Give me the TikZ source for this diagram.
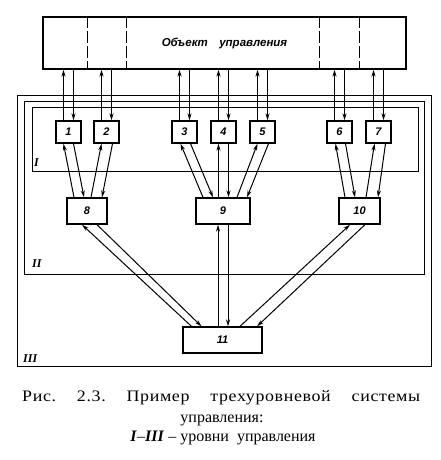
\documentclass[tikz,border=0pt]{standalone}
\usepackage{fontspec}
\setmainfont{Liberation Serif}
\newfontfamily\schemefont{Liberation Sans}
\newfontfamily\widefont{Liberation Serif}[FakeStretch=1.12, LetterSpace=4]
\usetikzlibrary{arrows.meta, calc}

\begin{document}
\begin{tikzpicture}[x=1pt, y=-1pt,
  every node/.style={inner sep=0pt},
  box/.style={draw, line width=1.3pt, font=\schemefont\bfseries\itshape\fontsize{11}{11}\selectfont},
  arrow/.style={-{Stealth[length=7pt, width=4pt]}, line width=1pt},
  frame/.style={line width=0.8pt},
  level/.style={font=\bfseries\itshape\fontsize{12}{12}\selectfont, anchor=base west},
  caption/.style={font=\fontsize{16}{19}\selectfont, anchor=base}
]
  \useasboundingbox (0,0) rectangle (441,460);

  % object under control
  \node[box, minimum width=363pt, minimum height=52pt] (obj) at (224.5,43)
    {\fontsize{11.5}{12}\selectfont Объект\quad управления};
  \foreach \dx in {45,84,277,317}
    \draw[line width=1pt, dash pattern=on 12pt off 3pt]
      ($(obj.north west)+(\dx,0)$) -- ($(obj.south west)+(\dx,0)$);

  % levels I--III
  \draw[frame] (17,95) rectangle (431,366);
  \draw[frame] (24,101) rectangle (424,274);
  \draw[frame] (32,107) rectangle (418,171);
  \node[level] (lI) at (34,166) {I};
  \node[level] (lII) at (32,267) {II};
  \node[level] (lIII) at (23,362) {III};

  % level I units
  \foreach \n/\x in {1/68.5, 2/106.5, 3/184.5, 4/223.5, 5/262.5, 6/339.5, 7/378.5}
    \node[box, minimum width=25pt, minimum height=22pt] (b\n) at (\x,132) {\n};

  % level II units
  \node[box, minimum width=40pt, minimum height=26pt] (b8) at (87,211) {8};
  \node[box, minimum width=54pt, minimum height=26pt] (b9) at (223,211) {9};
  \node[box, minimum width=41pt, minimum height=26pt] (b10) at (359.5,211) {10};

  % level III unit
  \node[box, minimum width=79pt, minimum height=26pt] (b11) at (222.5,340) {11};

  % links to the object
  \foreach \n in {1,...,7} {
    \draw[arrow] ($(b\n.north)+(-5,0)$) -- ($(b\n.north |- obj.south)+(-5,0)$);
    \draw[arrow] ($(b\n.north |- obj.south)+(5,0)$) -- ($(b\n.north)+(5,0)$);
  }

  % links between levels I and II
  \foreach \n/\low/\a/\b/\c/\d in {1/b8/-13/-5/5/-3, 2/b8/4/-5/6/15,
      3/b9/-20/-4/6/-10, 4/b9/-4.5/-5/5/5.5, 5/b9/14/-5/6/24,
      6/b10/-14.5/-4/6/-4.5, 7/b10/6.5/-4/7/18.5} {
    \draw[arrow] ($(\low.north)+(\a,0)$) -- ($(b\n.south)+(\b,0)$);
    \draw[arrow] ($(b\n.south)+(\c,0)$) -- ($(\low.north)+(\d,0)$);
  }

  % links between levels II and III
  \foreach \n/\a/\b/\c/\d in {8/-31/-5/10/-21, 9/-4.5/-5/5/5.5, 10/17.5/-9.5/5.5/34.5} {
    \draw[arrow] ($(b11.north)+(\a,0)$) -- ($(b\n.south)+(\b,0)$);
    \draw[arrow] ($(b\n.south)+(\c,0)$) -- ($(b11.north)+(\d,0)$);
  }

  % caption
  \node[caption, anchor=base west] (cap1) at (22,401)
    {\hbox to 398pt{\widefont Рис.\hfill 2.3.\hfill Пример\hfill трехуровневой\hfill системы}};
  \node[caption] (cap2) at (222,422) {управления:};
  \node[caption] (cap3) at (223,441) {\textbf{\textit{I}}--\textbf{\textit{III}} -- уровни\ \ управления};
\end{tikzpicture}
\end{document}
